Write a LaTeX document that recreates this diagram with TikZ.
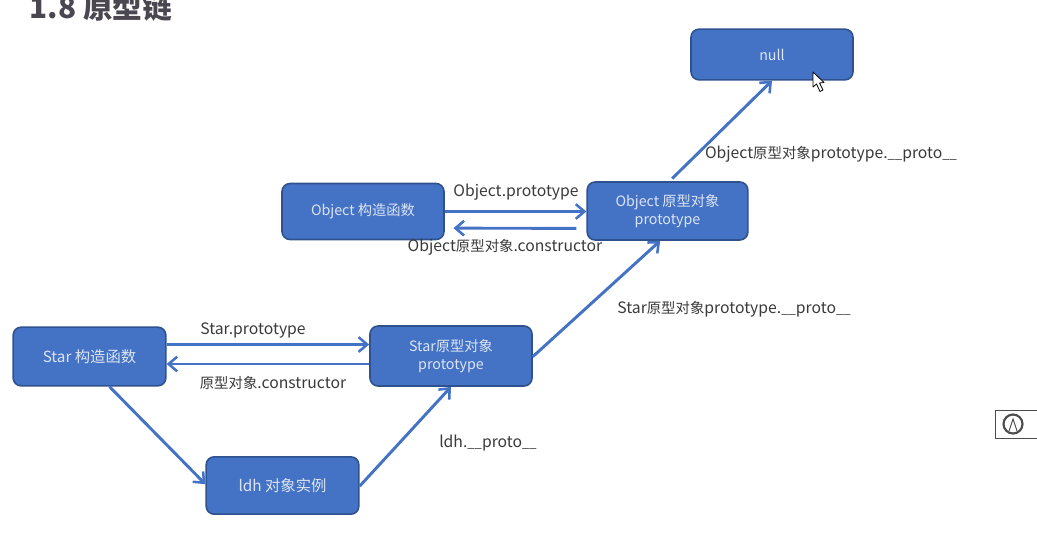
\documentclass[tikz,border=0pt]{standalone}
\usepackage{xcolor}
\usepackage{fontspec}
\setmainfont{Noto Sans CJK SC}
\usetikzlibrary{arrows.meta}

\definecolor{boxfill}{HTML}{4472C4}
\definecolor{boxline}{HTML}{2F528F}
\definecolor{boxtext}{HTML}{DCE4F4}
\definecolor{labeltext}{HTML}{3A3A3A}
\definecolor{titletext}{HTML}{4A4750}

\newcommand{\zh}[1]{{\fontsize{10.8}{13}\selectfont #1}}
\newcommand{\dunder}{{\fontsize{9.8}{13}\selectfont\_\_}}

\tikzset{
  protobox/.style={draw=boxline, fill=boxfill, line width=1.2pt, rounded corners=6pt,
    inner sep=0pt, text=boxtext, align=center, font=\fontsize{10.7}{13.5}\selectfont},
  bigbox/.style={protobox, font=\fontsize{11.5}{13.5}\selectfont},
  linkarrow/.style={draw=boxfill, line width=2.2pt,
    -{Straight Barb[length=6.5pt,width=11pt,line width=1.9pt]}},
  linklabel/.style={inner sep=0pt, text=labeltext, font=\fontsize{11.8}{13}\selectfont},
}

\begin{document}
\begin{tikzpicture}[x=0.75pt, y=-0.75pt]
        \useasboundingbox (0, 0) rectangle (1037, 537);
        \clip (0, 0) rectangle (1037, 537);

        \node[inner sep=0pt, text=titletext, font=\fontsize{22.3}{24}\bfseries\selectfont]
              (title) at (101, 7) {1.8 原型链};

        \node[protobox, minimum width=121.5pt, minimum height=38pt] (nullbox) at (772, 54.5) {null};
        \node[protobox, minimum width=121.5pt, minimum height=42pt] (objectctor) at (363, 211.5) {Object 构造函数};
        \node[protobox, minimum width=120.5pt, minimum height=43.5pt] (objectproto) at (667.5, 211) {Object 原型对象\\prototype};
        \node[bigbox, minimum width=114.5pt, minimum height=44pt] (starctor) at (89.5, 356.5) {Star 构造函数};
        \node[protobox, minimum width=121.5pt, minimum height=45pt] (starproto) at (451, 356) {Star原型对象\\prototype};
        \node[bigbox, minimum width=114.5pt, minimum height=43pt] (ldhbox) at (282.5, 485.5) {ldh 对象实例};

        \draw[linkarrow] ([yshift=9pt]starctor.east) -- ([yshift=9pt]starctor.east -| starproto.west);
        \draw[linkarrow] ([yshift=-6pt]starproto.west) -- ([yshift=-6pt]starproto.west -| starctor.east);
        \draw[linkarrow] ([xshift=15pt]starctor.south) -- ([yshift=1pt]ldhbox.west);
        \draw[linkarrow] ([yshift=-0.5pt]ldhbox.east) -- (starproto.south);
        \draw[linkarrow] ([yshift=-0.5pt]starproto.east) -- ([xshift=-5.5pt]objectproto.south);

        \draw[linkarrow] (objectctor.east) -- (objectctor.east -| objectproto.west);
        \draw[linkarrow] ([xshift=-7.5pt,yshift=-13pt]objectproto.west) -- ([xshift=6.5pt,yshift=-12.5pt]objectctor.east);
        \draw[linkarrow] ([xshift=3.5pt,yshift=2pt]objectproto.north) -- (nullbox.south);

        \node[linklabel] (starprotolabel) at (253, 330) {Star.prototype};
        \node[linklabel] (starctorlabel) at (273, 383) {\zh{原型对象}.constructor};
        \node[linklabel] (ldhlabel) at (488, 443) {ldh.\dunder proto\dunder};
        \node[linklabel] (objectprotolabel) at (516, 192) {Object.prototype};
        \node[linklabel] (objectctorlabel) at (505, 247) {Object\zh{原型对象}.constructor};
        \node[linklabel] (starchainlabel) at (734, 309) {Star\zh{原型对象}prototype.\dunder proto\dunder};
        \node[linklabel] (objectchainlabel) at (831, 154) {Object\zh{原型对象}prototype.\dunder proto\dunder};

        % mouse pointer
        \draw[black, fill=white, line width=0.6pt, line join=round]
          (813, 72) -- (813, 87) -- (816.5, 84) -- (820, 91.5) -- (823, 90) -- (819.5, 83) -- (824, 82.5) -- cycle;

        % small badge on the right edge
        \draw[fill=white, draw=black!70, line width=1pt] (995.5, 410.5) rectangle (1045, 438.5);
        \draw[black!70, line width=1.6pt] (1013, 424) circle [radius=9.5];
        \draw[black!70, line width=0.7pt] (1009, 431) -- (1013, 419) -- (1017, 431);
\end{tikzpicture}
\end{document}
